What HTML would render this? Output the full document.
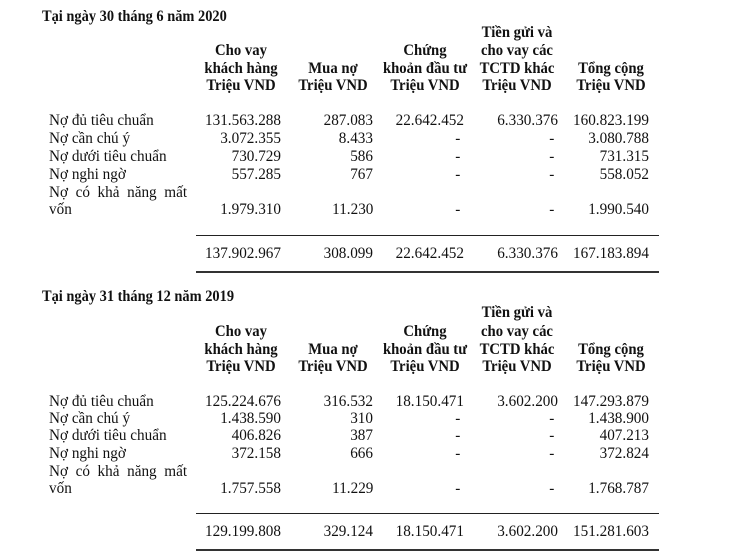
<!DOCTYPE html>
<html><head><meta charset="utf-8"><style>
body{margin:0;width:734px;height:551px;background:#fff;position:relative;overflow:hidden;font-family:"Liberation Serif",serif;color:#111}
.t{position:absolute;white-space:nowrap;line-height:18px;font-size:16px;transform:translateY(-9px) scaleX(.95)}
.r{transform-origin:right center}
.l{transform-origin:left center}
.c{transform-origin:center center}
.b{font-weight:bold;font-size:16px;transform:translateY(-9px) scaleX(.92)}
.ti{font-weight:bold;font-size:16px;transform:translateY(-9px) scaleX(.9)}
.rule{position:absolute;left:196px;width:463px;height:1px;background:#222}
.rule2{position:absolute;left:196px;width:463px;height:2px;background:#333}
</style></head><body>
<div id="root"></div>
<script>
const secs=[
{title:"Tại ngày 30 tháng 6 năm 2020",ty:17,tien:33,h:[51,69,86],rows:[121,139,157,175],r5:[193,210],rule:235,tot:254,bot:271,
data:[["131.563.288","287.083","22.642.452","6.330.376","160.823.199"],["3.072.355","8.433","-","-","3.080.788"],["730.729","586","-","-","731.315"],["557.285","767","-","-","558.052"],["1.979.310","11.230","-","-","1.990.540"]],
total:["137.902.967","308.099","22.642.452","6.330.376","167.183.894"]},
{title:"Tại ngày 31 tháng 12 năm 2019",ty:297,tien:313,h:[332,350,367],rows:[402,419,436,454],r5:[472,489],rule:513,tot:532,bot:549,
data:[["125.224.676","316.532","18.150.471","3.602.200","147.293.879"],["1.438.590","310","-","-","1.438.900"],["406.826","387","-","-","407.213"],["372.158","666","-","-","372.824"],["1.757.558","11.229","-","-","1.768.787"]],
total:["129.199.808","329.124","18.150.471","3.602.200","151.281.603"]}];
const R=[281,373,464,558,649],C=[241,333,425,517,611];
const labels=["Nợ đủ tiêu chuẩn","Nợ cần chú ý","Nợ dưới tiêu chuẩn","Nợ nghi ngờ"];
let h="";
function tr(x,y,s,cls){return `<div class="t r ${cls||''}" style="right:${734-x}px;top:${y}px">${s}</div>`}
function tl(x,y,s,cls){return `<div class="t l ${cls||''}" style="left:${x}px;top:${y}px">${s}</div>`}
function tc(x,y,s,cls){return `<div class="t c ${cls||''}" style="left:${x-60}px;width:120px;text-align:center;top:${y}px">${s}</div>`}
for(const s of secs){
 h+=tl(42,s.ty,s.title,"ti");
 h+=tc(C[3],s.tien,"Tiền gửi và","b");
 h+=tc(C[0],s.h[0],"Cho vay","b");h+=tc(C[0],s.h[1],"khách hàng","b");h+=tc(C[0],s.h[2],"Triệu VND","b");
 h+=tc(C[1],s.h[1],"Mua nợ","b");h+=tc(C[1],s.h[2],"Triệu VND","b");
 h+=tc(C[2],s.h[0],"Chứng","b");h+=tc(C[2],s.h[1],"khoản đầu tư","b");h+=tc(C[2],s.h[2],"Triệu VND","b");
 h+=tc(C[3],s.h[0],"cho vay các","b");h+=tc(C[3],s.h[1],"TCTD khác","b");h+=tc(C[3],s.h[2],"Triệu VND","b");
 h+=tc(C[4],s.h[1],"Tổng cộng","b");h+=tc(C[4],s.h[2],"Triệu VND","b");
 for(let i=0;i<4;i++){h+=tl(49,s.rows[i],labels[i]);s.data[i].forEach((v,j)=>h+=tr(R[j]-(v=="-"?4:0),s.rows[i],v));}
 h+=tl(49,s.r5[0],"Nợ&nbsp;&nbsp;có&nbsp;&nbsp;khả&nbsp;&nbsp;năng&nbsp;&nbsp;mất");h+=tl(49,s.r5[1],"vốn");
 s.data[4].forEach((v,j)=>h+=tr(R[j]-(v=="-"?4:0),s.r5[1],v));
 h+=`<div class="rule" style="top:${s.rule}px"></div>`;
 s.total.forEach((v,j)=>h+=tr(R[j],s.tot,v));
 h+=`<div class="rule2" style="top:${s.bot}px"></div>`;
}
document.getElementById("root").innerHTML=h;
</script>
</body></html>
